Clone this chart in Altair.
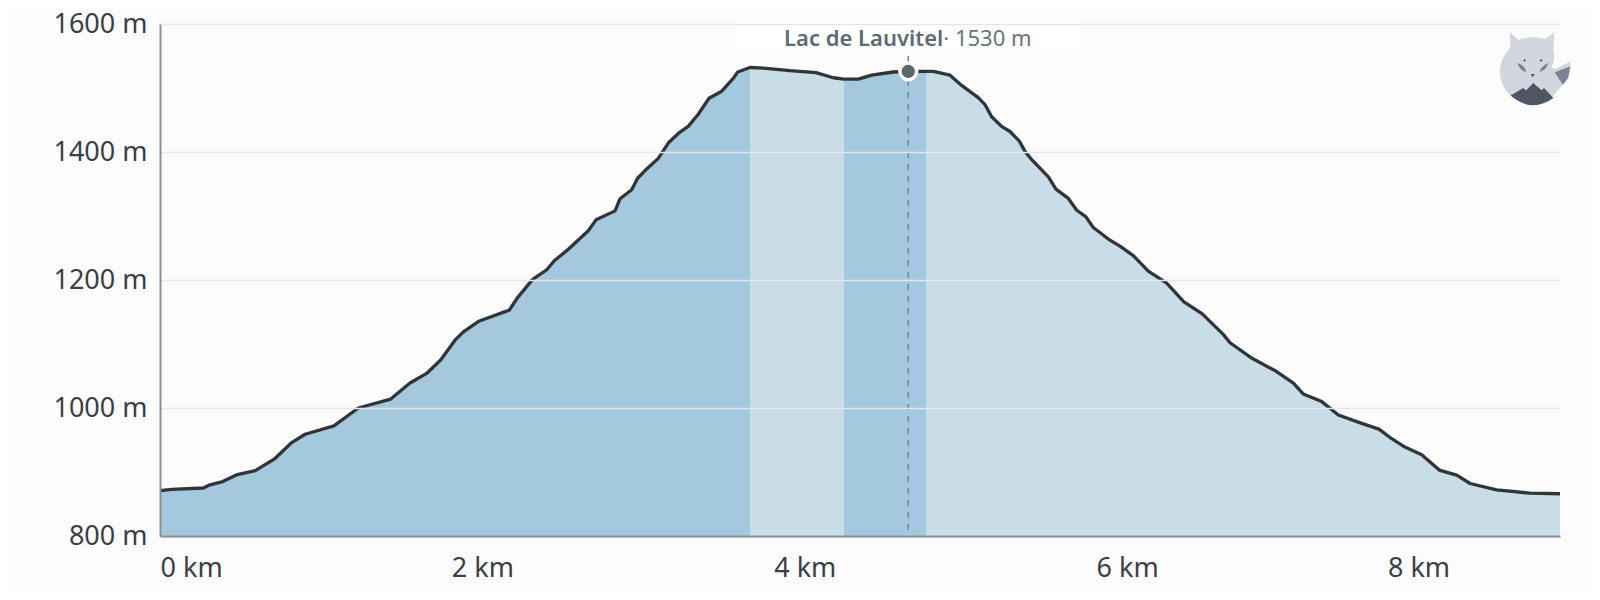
import altair as alt
import pandas as pd

km = [0.000, 0.073, 0.269, 0.310, 0.389, 0.480, 0.591, 0.713, 0.817, 0.900, 1.079, 1.230, 1.431, 1.551, 1.654,
      1.741, 1.830, 1.882, 1.981, 2.167, 2.217, 2.312, 2.399, 2.446, 2.533, 2.657, 2.705, 2.823, 2.854, 2.926,
      2.963, 3.009, 3.091, 3.153, 3.215, 3.277, 3.339, 3.406, 3.485, 3.556, 3.584, 3.660, 3.743, 3.908, 4.069,
      4.177, 4.243, 4.332, 4.415, 4.549, 4.642, 4.756, 4.797, 4.901, 4.973, 5.076, 5.118, 5.159, 5.221, 5.273,
      5.331, 5.366, 5.408, 5.511, 5.558, 5.633, 5.687, 5.743, 5.790, 5.883, 5.955, 6.038, 6.131, 6.245, 6.352,
      6.466, 6.596, 6.638, 6.766, 6.927, 7.031, 7.092, 7.207, 7.310, 7.455, 7.562, 7.641, 7.723, 7.827, 7.936,
      8.044, 8.127, 8.292, 8.499, 8.685]
alt_m = [871, 873, 875, 880, 885, 896, 902, 921, 946, 959, 972, 1000, 1014, 1039, 1054,
         1075, 1106, 1119, 1136, 1153, 1172, 1201, 1216, 1230, 1248, 1277, 1294, 1308, 1327, 1341,
         1359, 1371, 1390, 1414, 1429, 1440, 1459, 1484, 1495, 1515, 1525, 1532, 1531, 1527, 1524,
         1516, 1514, 1514, 1520, 1525, 1526, 1526, 1526, 1520, 1504, 1485, 1474, 1455, 1440, 1432,
         1417, 1401, 1388, 1361, 1342, 1328, 1309, 1299, 1282, 1264, 1253, 1238, 1214, 1195, 1166,
         1147, 1115, 1102, 1079, 1057, 1039, 1022, 1010, 989, 976, 967, 952, 939, 927, 903,
         895, 882, 872, 867, 866]

# section boundaries, km
bands = [(0.000, 3.660, "#a4c8dd"), (3.660, 4.243, "#c9dde9"), (4.243, 4.756, "#a4c8dd"), (4.756, 8.685, "#c9dde9")]

y_ticks = [800, 1000, 1200, 1400, 1600]
x_ticks = [0, 2, 4, 6, 8]

sel_km = [4.642]
sel_m = [1526]
sel_name = ["Lac de Lauvitel"]
sel_alt = ["· 1530 m"]

df = pd.DataFrame({"km": km, "alt": alt_m})
sel = pd.DataFrame({"km": sel_km, "alt": sel_m, "name": sel_name, "label": sel_alt})

FONT = "Noto Sans"
x_scale = alt.Scale(domain=[0, 8.685], nice=False)
y_scale = alt.Scale(domain=[800, 1600], nice=False)

x = alt.X("km:Q", scale=x_scale, title=None, axis=alt.Axis(
    values=x_ticks, labelExpr="datum.value + ' km'", grid=False, ticks=False, zindex=2,
    domainColor="#8b8f94", domainWidth=2, labelFont=FONT, labelFontSize=27, labelColor="#3a4045",
    labelPadding=19, labelAlign=alt.ExprRef("datum.value == 0 ? 'left' : datum.value == 8 ? 'right' : 'center'")))
y = alt.Y("alt:Q", scale=y_scale, title=None, axis=alt.Axis(
    values=y_ticks, labelExpr="datum.value + ' m'", grid=True, gridColor="#e1e7ef", gridWidth=1.5, ticks=False,
    domainColor="#8b8f94", domainWidth=2, labelFont=FONT, labelFontSize=27, labelColor="#3a4045",
    labelPadding=13, zindex=1))

layers = []
for start, end, colour in bands:
    part = df[(df.km >= start) & (df.km <= end)]
    layers.append(alt.Chart(part).mark_area(color=colour, clip=True).encode(x=x, y=y))

line = alt.Chart(df).mark_line(color="#2f363a", strokeWidth=3.3, strokeJoin="round").encode(x=x, y=y)

rule = alt.Chart(sel).mark_rule(color="#7a868d", strokeWidth=1.5, strokeDash=[6, 6]).encode(
    x=x, y=alt.value(32), y2=alt.value(512))
dot = alt.Chart(sel).mark_point(filled=True, size=283, color="#5d686e", stroke="#ffffff", strokeWidth=3.5, opacity=1).encode(x=x, y=y)

box = alt.Chart(sel).mark_bar(color="#ffffff", cornerRadius=4).encode(
    x=alt.value(576), x2=alt.value(920), y=alt.value(-7), y2=alt.value(30))
name = alt.Chart(sel).mark_text(font=FONT, fontSize=22, fontWeight=600, color="#5f6b73", align="right", dx=35).encode(
    x=x, y=alt.value(15), text="name:N")
value = alt.Chart(sel).mark_text(font=FONT, fontSize=22, color="#6a757c", align="left", dx=35).encode(
    x=x, y=alt.value(15), text="label:N")

# fox logo, paths in symbol units
logo_x, logo_y, logo_size = alt.value(1370), alt.value(50), 5184
fox_parts = [
    ("M-0.56 -1.16L-0.32 -0.95Q0.09 -1.08 0.42 -0.97L0.67 -1.16L0.65 -0.68Q0.72 -0.45 0.6 -0.2L0.7 -0.13L1.11 -0.35Q1.2 0 0.91 0.3L0.65 0.6A0.87 0.87 0 1 1 -0.54 -0.72Z", "#d2d6de"),
    ("M-0.54 0.6L-0.19 0.39L-0.11 0.46L0.09 0.25L0.32 0.45L0.39 0.39L0.65 0.67Q0.05 1.1 -0.54 0.6Z", "#4e5563"),
    ("M0.69 -0.05L1.11 -0.21L1.06 0.11L0.91 0.3L0.79 0.11Z", "#7a8294"),
    ("M-0.35 -0.31Q-0.1 -0.2 -0.11 -0.05Q-0.3 -0.1 -0.35 -0.31ZM0.51 -0.31Q0.3 -0.2 0.26 -0.05Q0.45 -0.1 0.51 -0.31Z", "#7a8294"),
    ("M0.02 0L0.13 0L0.07 0.1ZM-0.15 -0.42L-0.11 -0.38L-0.15 -0.34L-0.19 -0.38ZM0.31 -0.42L0.35 -0.38L0.31 -0.34L0.27 -0.38Z", "#4e5563"),
]
fox = [alt.Chart(sel).mark_point(shape=path, filled=True, size=logo_size, color=colour, opacity=1, strokeWidth=0).encode(
    x=logo_x, y=logo_y) for path, colour in fox_parts]

chart = alt.layer(*layers, line, rule, dot, box, name, value, *fox).properties(
    width=1400, height=512,
    autosize=alt.AutoSizeParams(type="none"),
    padding={"left": 152, "top": 16, "right": 30, "bottom": 50},
    background="#fcfcfd",
).configure_view(strokeWidth=0)

chart.save("out.html", embed_options={"renderer": "svg", "actions": False})
